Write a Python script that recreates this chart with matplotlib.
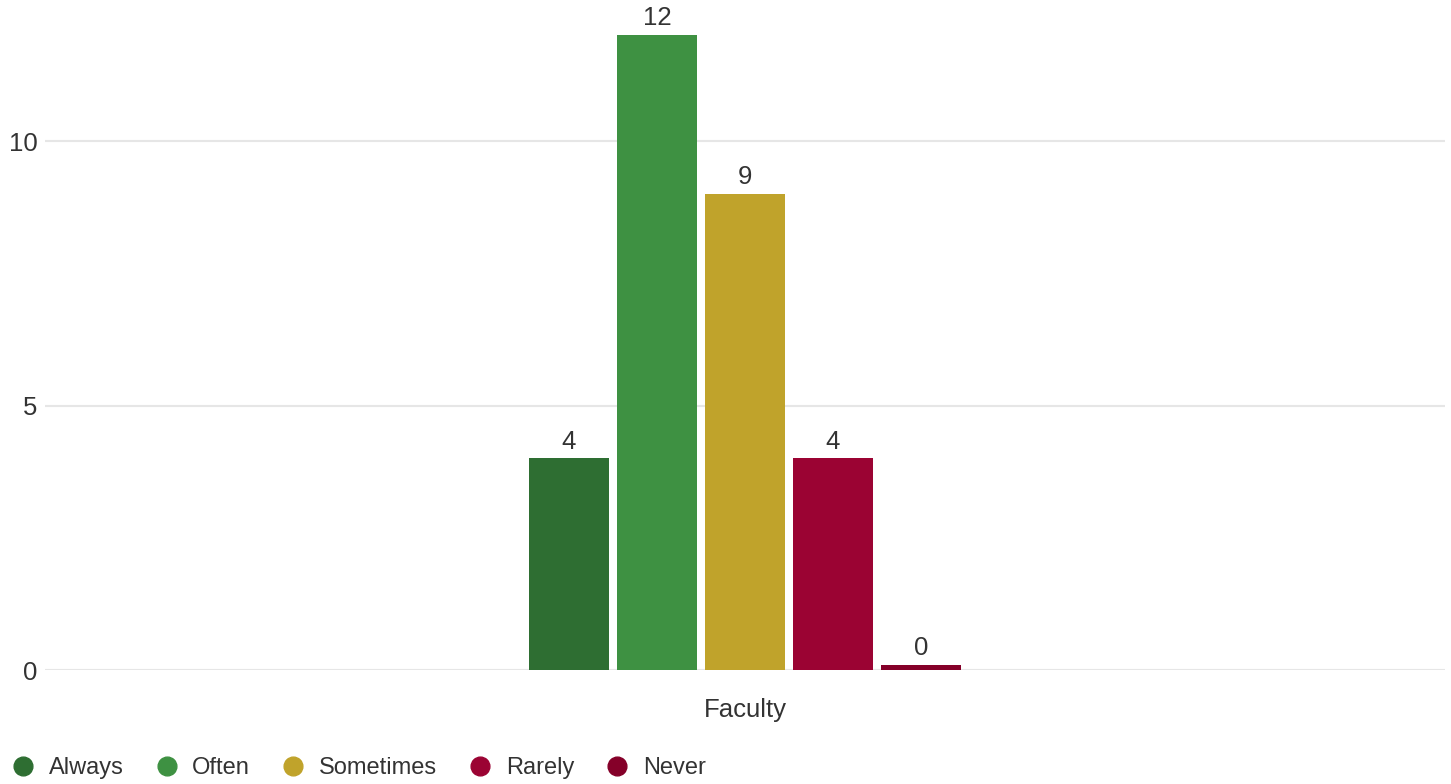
import numpy as np
import matplotlib.pyplot as plt
from matplotlib.lines import Line2D

# data
group = 'Faculty'
answers = ['Always', 'Often', 'Sometimes', 'Rarely', 'Never']
counts = [4, 12, 9, 4, 0]
colors = ['#2e6e32', '#3e9142', '#c0a32b', '#9b0333', '#850029']
yticks = [0, 5, 10]

plt.rcParams['font.family'] = ['Liberation Sans', 'DejaVu Sans']
txt = '#333333'

fig = plt.figure(figsize=(14.51, 7.84), dpi=100)
ax = fig.add_axes([45 / 1451, 114 / 784, 1400 / 1451, 670 / 784])

step = 88 / 1400
width = 80 / 1400
min_h = 0.09  # zero bars still get a thin sliver
for i, (lab, v, c) in enumerate(zip(answers, counts, colors)):
    x = (i - (len(answers) - 1) / 2) * step
    ax.bar(x, max(v, min_h), width=width, color=c, zorder=3)
    ax.text(x, max(v, min_h) + 0.09, str(v), ha='center', va='bottom',
            fontsize=18.5, color=txt)

ax.set_xlim(-0.5, 0.5)
ax.set_ylim(0, 670 / 52.9)
ax.set_yticks(yticks)
ax.set_yticklabels([str(t) for t in yticks], fontsize=18.5, color=txt)
ax.set_xticks([0])
ax.set_xticklabels([group], fontsize=18.5, color=txt)
ax.tick_params(axis='both', length=0)
ax.tick_params(axis='y', pad=5.5)
ax.tick_params(axis='x', pad=20.5)
ax.grid(axis='y', color='#e6e6e6', lw=1.5, zorder=0)
for s in ax.spines.values():
    s.set_visible(False)

handles = [Line2D([], [], ls='none', marker='o', markersize=13.5,
                  markerfacecolor=c, markeredgecolor=c) for c in colors]
fig.legend(handles, answers, loc='lower left', bbox_to_anchor=(-0.0035, -0.015),
           ncol=5, frameon=False, fontsize=17, labelcolor=txt,
           handletextpad=0.58, columnspacing=1.33, handlelength=1.0,
           borderaxespad=0.3)

fig.savefig('out.png', dpi=100, facecolor='white')
